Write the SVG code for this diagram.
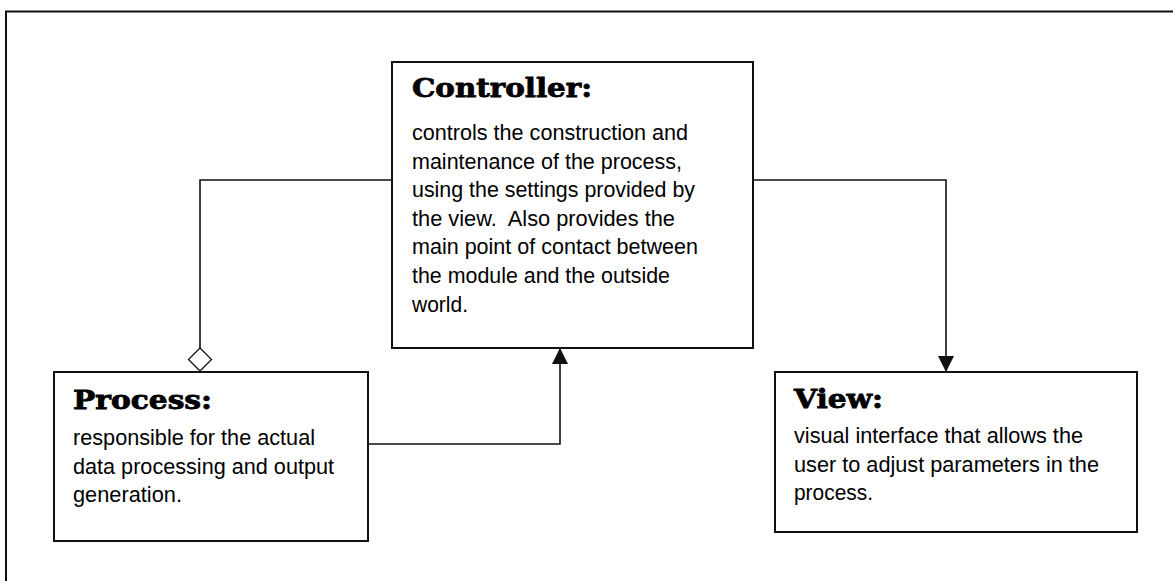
<svg xmlns="http://www.w3.org/2000/svg" width="1173" height="581" viewBox="0 0 1173 581">
  <style>
    .box { fill: #ffffff; stroke: #111111; stroke-width: 2; }
    .frame { fill: none; stroke: #111111; stroke-width: 2; }
    .wire { fill: none; stroke: #111111; stroke-width: 1.6; }
    .title { font-family: "DejaVu Serif", "Liberation Serif", serif; font-weight: bold; font-size: 26px; fill: #000000; stroke: #000000; stroke-width: 0.8; }
    .body { font-family: "Liberation Sans", Arial, sans-serif; font-size: 21.5px; fill: #000000; }
  </style>
  <defs>
    <marker id="arrow" viewBox="0 0 16 18" refX="16" refY="9" markerWidth="16" markerHeight="18" markerUnits="userSpaceOnUse" orient="auto">
      <path d="M0,1 L16,9 L0,17 Z" fill="#111111"/>
    </marker>
  </defs>

  <rect width="1173" height="581" fill="#ffffff"/>

  <!-- open outer frame: top and left edges -->
  <path class="frame" d="M6,590 L6,11.5 L1180,11.5"/>

  <!-- connectors -->
  <g id="connectors">
    <!-- Controller to Process, aggregation diamond at the Process end -->
    <path class="wire" d="M392,180 L200,180 L200,348"/>
    <path d="M200,348 L211.5,359.5 L200,371 L188.5,359.5 Z" fill="#ffffff" stroke="#111111" stroke-width="1.3"/>
    <!-- Controller to View -->
    <path class="wire" d="M753,180 L946,180 L946,372" marker-end="url(#arrow)"/>
    <!-- Process to Controller -->
    <path class="wire" d="M368,444 L560,444 L560,348" marker-end="url(#arrow)"/>
  </g>

  <g id="controller">
    <rect class="box" x="392" y="62" width="361" height="286"/>
    <text class="title" x="412" y="97" textLength="180" lengthAdjust="spacingAndGlyphs">Controller:</text>
    <text class="body" x="412" y="140" textLength="276" lengthAdjust="spacingAndGlyphs">controls the construction and</text>
    <text class="body" x="412" y="168.6" textLength="270" lengthAdjust="spacingAndGlyphs">maintenance of the process,</text>
    <text class="body" x="412" y="197.2" textLength="283" lengthAdjust="spacingAndGlyphs">using the settings provided by</text>
    <text class="body" x="412" y="225.8" textLength="263" lengthAdjust="spacingAndGlyphs" xml:space="preserve">the view.  Also provides the</text>
    <text class="body" x="412" y="254.4" textLength="286" lengthAdjust="spacingAndGlyphs">main point of contact between</text>
    <text class="body" x="412" y="283" textLength="258" lengthAdjust="spacingAndGlyphs">the module and the outside</text>
    <text class="body" x="412" y="311.6" textLength="56" lengthAdjust="spacingAndGlyphs">world.</text>
  </g>

  <g id="process">
    <rect class="box" x="54" y="372" width="314" height="169"/>
    <text class="title" x="73" y="409" textLength="139" lengthAdjust="spacingAndGlyphs">Process:</text>
    <text class="body" x="73" y="445" textLength="242" lengthAdjust="spacingAndGlyphs">responsible for the actual</text>
    <text class="body" x="73" y="473.5" textLength="261" lengthAdjust="spacingAndGlyphs">data processing and output</text>
    <text class="body" x="73" y="502" textLength="109" lengthAdjust="spacingAndGlyphs">generation.</text>
  </g>

  <g id="view">
    <rect class="box" x="775" y="372" width="362" height="160"/>
    <text class="title" x="794" y="408" textLength="89" lengthAdjust="spacingAndGlyphs">View:</text>
    <text class="body" x="794" y="443" textLength="289" lengthAdjust="spacingAndGlyphs">visual interface that allows the</text>
    <text class="body" x="794" y="471.5" textLength="305" lengthAdjust="spacingAndGlyphs">user to adjust parameters in the</text>
    <text class="body" x="794" y="500" textLength="79" lengthAdjust="spacingAndGlyphs">process.</text>
  </g>
</svg>
